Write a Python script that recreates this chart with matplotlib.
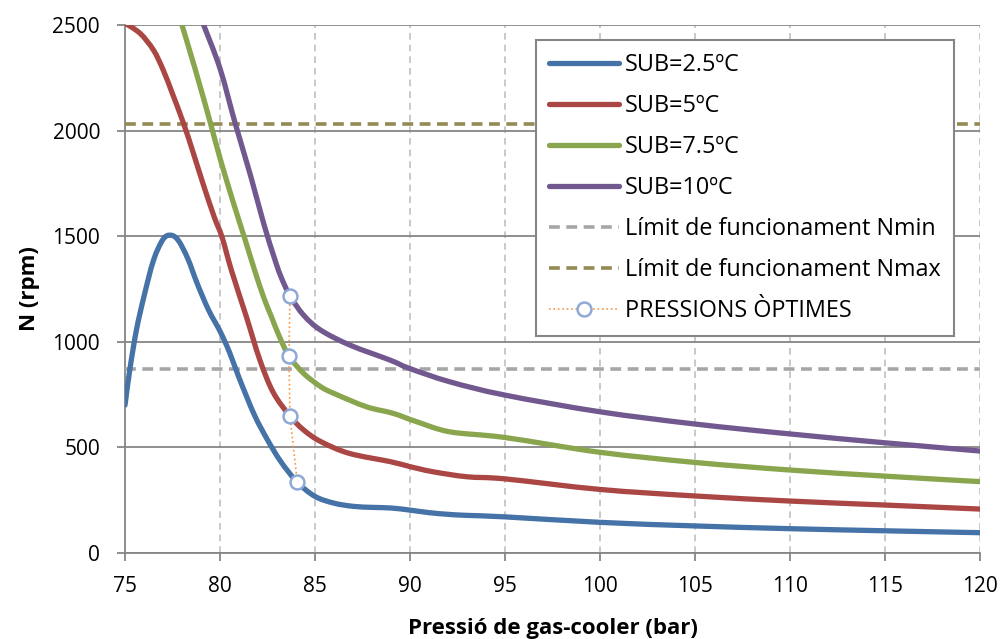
import matplotlib
matplotlib.use("Agg")
import numpy as np
import matplotlib.pyplot as plt
from matplotlib.lines import Line2D
from matplotlib.path import Path
from matplotlib.patches import PathPatch

plt.rcParams["font.family"] = ["Open Sans", "DejaVu Sans"]

# ── Data ──────────────────────────────────────────────────────────────────────
sub25_p = [75, 75.25, 75.6, 76, 76.5, 77, 77.4, 77.8, 78.3, 78.8, 79.4, 80, 80.5,
           81, 81.8, 82.5, 83.2, 84.07, 85, 86, 87, 88, 89, 90, 91, 92, 93, 95,
           100, 105, 110, 115, 120]
sub25_n = [700, 866, 1055, 1215, 1386, 1485, 1505, 1481, 1395, 1276, 1150, 1050, 950,
           830, 655, 535, 432, 334, 267, 235, 220, 215, 212, 202, 190, 182, 177, 170,
           144, 127, 114, 104, 95]

sub5_p = [75, 75.8, 76.5, 77, 77.5, 78.1, 78.6, 79.1, 79.7, 80.1, 80.6, 81.4, 82.1,
          82.8, 83.68, 84.4, 85.3, 86.8, 89, 90, 91.2, 93, 95, 100, 105, 110, 115, 120]
sub5_n = [2510, 2461, 2382, 2290, 2175, 2030, 1893, 1751, 1590, 1498, 1339, 1115, 913,
          760, 648, 582, 527, 471, 431, 408, 384, 360, 350, 300, 269, 245, 226, 207]

sub75_p = [77.9, 78.7, 79.5, 80.0, 80.7, 81.3, 81.8, 82.3, 82.7, 83.1, 83.63, 84.4,
           85.3, 86, 87.7, 89.1, 90.35, 92.1, 95, 100, 105, 110, 115, 120]
sub75_n = [2530, 2290, 2035, 1870, 1660, 1490, 1345, 1210, 1120, 1030, 932, 850,
           787, 755, 692, 661, 621, 573, 546, 476, 428, 392, 363, 337]

sub10_p = [79.1, 80.0, 80.8, 81.6, 82.3, 82.85, 83.2, 83.68, 84.4, 85.3,
           86.84, 88.95, 89.96, 92.1, 95, 100, 105, 110, 115, 120]
sub10_n = [2510, 2295, 2035, 1790, 1560, 1400, 1310, 1218, 1126, 1055,
           984, 913, 874, 810, 747, 668, 610, 563, 521, 482]

opt_p = [84.07, 83.68, 83.63, 83.68]
opt_n = [334, 648, 932, 1218]

N_MIN = 870
N_MAX = 2030

SERIES = [
    ("SUB=2.5ºC", sub25_p, sub25_n, "#4572A7"),
    ("SUB=5ºC", sub5_p, sub5_n, "#AA4643"),
    ("SUB=7.5ºC", sub75_p, sub75_n, "#89A54E"),
    ("SUB=10ºC", sub10_p, sub10_n, "#71588F"),
]


def smooth_path(xs, ys):
    # Excel-style smoothed line: Catmull-Rom segments as cubic Bezier curves
    pts = np.column_stack([xs, ys]).astype(float)
    ext = np.vstack([pts[0], pts, pts[-1]])
    verts = [pts[0]]
    codes = [Path.MOVETO]
    for i in range(1, len(ext) - 2):
        p0, p1, p2, p3 = ext[i - 1], ext[i], ext[i + 1], ext[i + 2]
        verts += [p1 + (p2 - p0) / 6, p2 - (p3 - p1) / 6, p2]
        codes += [Path.CURVE4] * 3
    return Path(verts, codes)


# ── Plot ──────────────────────────────────────────────────────────────────────
fig = plt.figure(figsize=(10, 6.39), dpi=100)
ax = fig.add_axes([0.125, 0.135, 0.855, 0.8255])

handles = []
for label, p, n, c in SERIES:
    ax.add_patch(PathPatch(smooth_path(p, n), facecolor="none", edgecolor=c,
                           lw=3.8, capstyle="round", joinstyle="round", zorder=4))
    handles.append(Line2D([], [], color=c, lw=3.8, solid_capstyle="round",
                          label=label))

l_min = ax.axhline(N_MIN, color="#A6A6A6", lw=2.6, ls=(0, (3, 1.8)),
                   label="Límit de funcionament Nmin", zorder=3)
l_max = ax.axhline(N_MAX, color="#948A54", lw=2.6, ls=(0, (3, 1.8)),
                   label="Límit de funcionament Nmax", zorder=3)
l_opt, = ax.plot(opt_p, opt_n, color="#F79646", lw=1.2, ls=":", marker="o", ms=10,
                 mfc="white", mec="#8EA9D6", mew=1.8, label="PRESSIONS ÒPTIMES",
                 zorder=5)
handles += [l_min, l_max, l_opt]

ax.set_xlim(75, 120)
ax.set_ylim(0, 2500)
ax.set_xticks(range(75, 121, 5))
ax.set_yticks(range(0, 2501, 500))

ax.yaxis.grid(True, color="#868686", lw=1.3)
ax.xaxis.grid(True, color="#C0C0C0", lw=1.2, ls=(0, (4, 3)))
ax.set_axisbelow(True)
for s in ["top", "right"]:
    ax.spines[s].set_visible(False)
for s in ["left", "bottom"]:
    ax.spines[s].set_color("#868686")
    ax.spines[s].set_linewidth(1.3)
ax.tick_params(direction="out", length=6, width=1.3, color="#868686",
               labelsize=15)
ax.tick_params(axis="x", pad=11)
ax.tick_params(axis="y", pad=12)

ax.set_xlabel("Pressió de gas-cooler (bar)", fontsize=16, fontweight="bold",
              labelpad=15)
ax.set_ylabel("N (rpm)", fontsize=16, fontweight="bold", labelpad=9)

leg = ax.legend(handles=handles, loc="upper left", bbox_to_anchor=(0.481, 0.972),
                borderaxespad=0, fontsize=16.8, frameon=True, fancybox=False,
                handlelength=3.0, handletextpad=0.25, labelspacing=0.73,
                borderpad=0.55, framealpha=1)
leg.get_frame().set_edgecolor("#868686")
leg.get_frame().set_linewidth(1.5)

fig.savefig("out.png", dpi=100)
